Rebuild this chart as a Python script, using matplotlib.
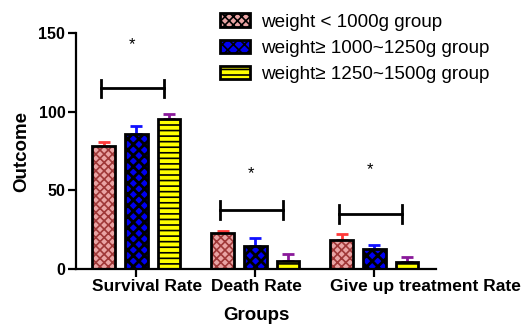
import matplotlib
matplotlib.use('Agg')
import matplotlib.pyplot as plt
import numpy as np
from matplotlib.patches import Patch
from matplotlib.transforms import ScaledTranslation

plt.rcParams['font.family'] = ['Liberation Sans', 'DejaVu Sans']
plt.rcParams['hatch.linewidth'] = 1.2

# data
categories = ['Survival Rate', 'Death Rate', 'Give up treatment Rate']
groups = ['weight < 1000g group', 'weight\u2265 1000~1250g group', 'weight\u2265 1250~1500g group']
low_w = [78, 23, 18.5]
low_err = [2.5, 1.5, 3.5]
mid_w = [86, 14.5, 13]
mid_err = [5, 5.5, 2.5]
high_w = [95.5, 5, 4.8]
high_err = [3, 4.5, 3]
bracket_y = [115, 37.5, 35]
star_y = [143, 61, 63]

faces = ['#eaa4a4', '#0000f0', '#ffff00']
hatch_cols = ['#a03838', 'black', 'black']
hatches = ['xxxx', 'xxx', '---']
hatch_lw = [1.2, 2.0, 1.2]
err_cols = ['#ff3a3a', '#1010ff', '#8a1a9a']

fig = plt.figure(figsize=(5.3, 3.25), dpi=100)
ax = fig.add_axes([0.143, 0.172, 0.68, 0.726])

x = np.arange(len(categories))
w = 0.19
offs = [-0.275, 0, 0.275]
vals = [low_w, mid_w, high_w]
errs = [low_err, mid_err, high_err]

for i in range(3):
    pos = x + offs[i]
    ax.errorbar(pos, vals[i], yerr=[np.zeros(3), errs[i]], fmt='none',
                ecolor=err_cols[i], elinewidth=2, capsize=4, capthick=2, zorder=1)
    with plt.rc_context({'hatch.linewidth': hatch_lw[i]}):
        ax.bar(pos, vals[i], w, color=faces[i], edgecolor=hatch_cols[i],
               hatch=hatches[i], linewidth=0, zorder=2)
    ax.bar(pos, vals[i], w, fill=False, edgecolor='black', linewidth=2, zorder=3)

# significance brackets
for j in range(3):
    ax.plot([x[j] - 0.3, x[j] + 0.23], [bracket_y[j]] * 2, color='black', lw=2)
    for xe in (x[j] - 0.3, x[j] + 0.23):
        ax.plot([xe, xe], [bracket_y[j] - 5.5, bracket_y[j] + 5.5], color='black', lw=2)
    ax.text(x[j] - 0.04, star_y[j], '*', ha='center', va='center', fontsize=12)

ax.set_xlim(-0.51, 2.52)
ax.set_ylim(0, 150)
ax.set_yticks([0, 50, 100, 150])
ax.set_xticks(x)
ax.set_xticklabels([])
# category labels start left of their tick, as in the original
shift = ScaledTranslation(-0.44, -0.1, fig.dpi_scale_trans)
for j in range(3):
    ax.text(x[j], 0, categories[j], transform=ax.get_xaxis_transform() + shift,
            ha='left', va='top', fontweight='bold', fontsize=12.5)
for lbl in ax.get_yticklabels():
    lbl.set_fontweight('bold')
    lbl.set_fontsize(11.5)
ax.spines['top'].set_visible(False)
ax.spines['right'].set_visible(False)
ax.spines['left'].set_linewidth(1.6)
ax.spines['bottom'].set_linewidth(1.6)
ax.tick_params(width=1.6, length=5.5, pad=2)
ax.set_xlabel('Groups', fontweight='bold', fontsize=13.5, labelpad=20)
ax.set_ylabel('Outcome', fontweight='bold', fontsize=13.5, labelpad=6)

handles = []
for i in range(3):
    with plt.rc_context({'hatch.linewidth': hatch_lw[i]}):
        handles.append(Patch(facecolor=faces[i], edgecolor='black',
                             hatch=hatches[i], linewidth=2))
fig.legend(handles, groups, loc='upper left', bbox_to_anchor=(0.4, 0.982),
           frameon=False, fontsize=13.6, handlelength=1.6, handleheight=0.7,
           handletextpad=0.6, labelspacing=0.47, borderaxespad=0)

fig.savefig('out.png', dpi=100)
